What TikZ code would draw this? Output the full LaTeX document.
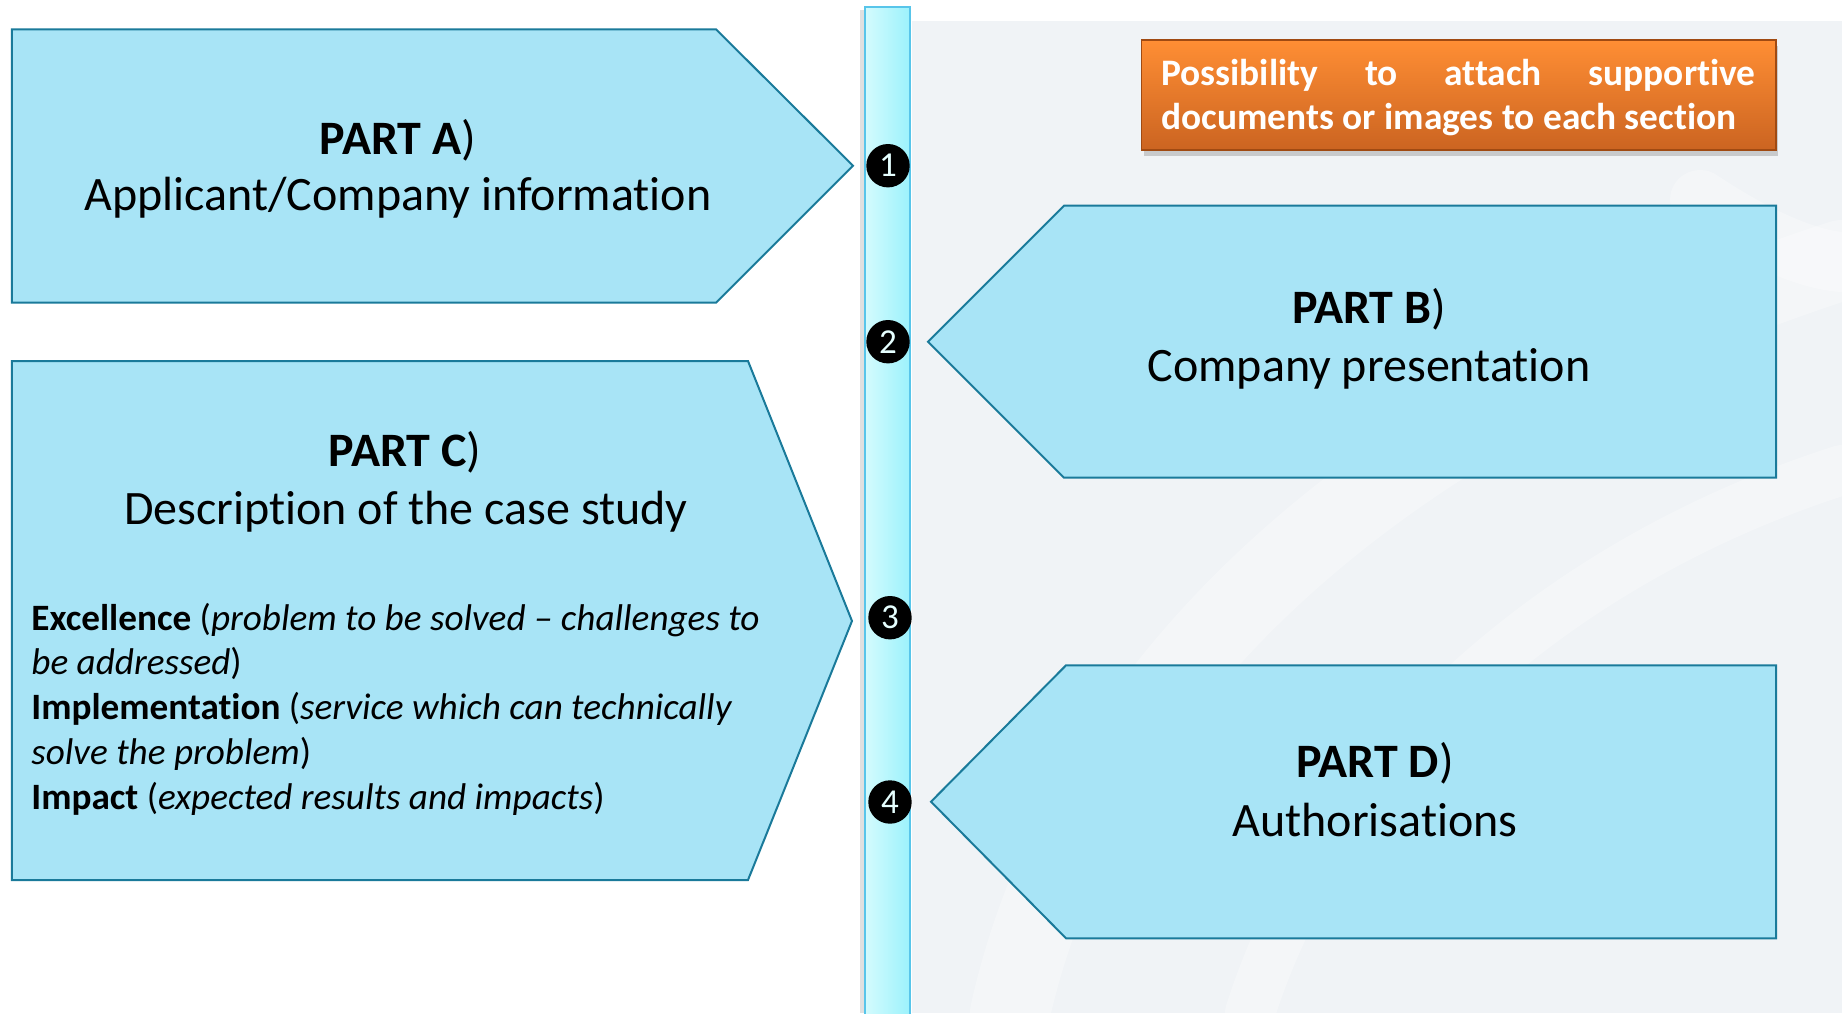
\documentclass[tikz,border=0pt]{standalone}
\usepackage{fontspec}
\setmainfont{Carlito}[Ligatures=NoCommon]
\usetikzlibrary{shadows}
\definecolor{partfill}{HTML}{A8E4F6}
\definecolor{partline}{HTML}{1A7A9A}
\definecolor{orangeT}{HTML}{FF8E34}
\definecolor{orangeB}{HTML}{CB6421}
\definecolor{orangeline}{HTML}{A04A12}
\definecolor{barL}{HTML}{D4FBFD}
\definecolor{barR}{HTML}{9CF2FC}
\definecolor{barline}{HTML}{58C5EA}
\definecolor{bggrey}{HTML}{F0F3F6}
\definecolor{numwhite}{HTML}{E6FFFF}
\tikzset{
  partshape/.style={fill=partfill, draw=partline, line width=1pt, line join=miter},
  titletxt/.style={anchor=base, inner sep=0pt, font=\fontsize{24}{28}\selectfont},
  bodytxt/.style={anchor=base west, inner sep=0pt, font=\fontsize{18.6}{22}\selectfont},
  notetxt/.style={anchor=base west, inner sep=0pt, text=white, font=\fontsize{18.7}{22}\selectfont\bfseries},
  numdot/.style={circle, fill=black, minimum size=21.7pt, inner sep=0pt, text=numwhite, font=\fontsize{17.5}{17.5}\selectfont},
  swoosh/.style={draw=white, opacity=0.3, line cap=round}
}
\begin{document}
\begin{tikzpicture}[x=0.5pt,y=-0.5pt]
\useasboundingbox (0,0) rectangle (1842,1013);
\fill[white] (0,0) rectangle (1842,1013);
% background on the right
\fill[bggrey] (912,21) rectangle (1842,1013);
\draw[swoosh, line width=40pt] (1010,1013) .. controls (1080,700) and (1350,420) .. (1842,260);
\draw[swoosh, line width=25pt] (1250,1013) .. controls (1330,760) and (1560,560) .. (1842,470);
\draw[swoosh, line width=30pt] (1700,200) .. controls (1760,240) and (1810,260) .. (1842,262);
% vertical bar
\fill[black!12] (860,10) rectangle (865,1013);
\path[left color=barL, right color=barR, draw=barline, line width=1.2pt] (865,7) rectangle (910,1020);
% parts
\draw[partshape] (11.8,29.3) -- (716,29.3) -- (853,165.7) -- (716,302.7) -- (11.8,302.7) -- cycle;
\draw[partshape] (11.8,361) -- (748,361) -- (852,621) -- (748,880) -- (11.8,880) -- cycle;
\draw[partshape] (1776,205.7) -- (1064,205.7) -- (928,341.7) -- (1064,477.7) -- (1776,477.7) -- cycle;
\draw[partshape] (1776,665.3) -- (1066,665.3) -- (931,801.7) -- (1066,938.3) -- (1776,938.3) -- cycle;
% orange note
\path[top color=orangeT, bottom color=orangeB, draw=orangeline, line width=0.8pt,
  drop shadow={opacity=0.35, shadow xshift=1pt, shadow yshift=-3pt}] (1141.6,40) rectangle (1775.7,150);
\node[notetxt] (note1) at (1161,85) {\makebox[297pt][l]{Possibility\hfill to\hfill attach\hfill supportive}};
\node[notetxt] (note2) at (1161,129.3) {documents or images to each section};
% texts
\node[titletxt] (at) at (398,154) {\textbf{PART A})};
\node[titletxt] (as) at (398,210.7) {Applicant/Company information};
\node[titletxt] (bt) at (1369,323) {\textbf{PART B})};
\node[titletxt] (bs) at (1369,381) {Company presentation};
\node[titletxt] (ct) at (405,466.7) {\textbf{PART C})};
\node[titletxt] (cs) at (406,524.3) {Description of the case study};
\node[titletxt] (dt) at (1375,777.7) {\textbf{PART D})};
\node[titletxt] (ds) at (1375,836) {Authorisations};
\node[bodytxt] (c1) at (31,630) {\textbf{Excellence} (\textit{problem to be solved -- challenges to}};
\node[bodytxt] (c2) at (31,674.3) {\textit{be addressed})};
\node[bodytxt] (c3) at (31,719.3) {\textbf{Implementation} (\textit{service which can technically}};
\node[bodytxt] (c4) at (31,764.3) {\textit{solve the problem})};
\node[bodytxt] (c5) at (31,809.3) {\textbf{Impact} (\textit{expected results and impacts})};
% numbers
\node[numdot] (n1) at (888,165.7) {1};
\node[numdot] (n2) at (888,341.7) {2};
\node[numdot] (n3) at (890,617.7) {3};
\node[numdot] (n4) at (890,802) {4};
\end{tikzpicture}
\end{document}
